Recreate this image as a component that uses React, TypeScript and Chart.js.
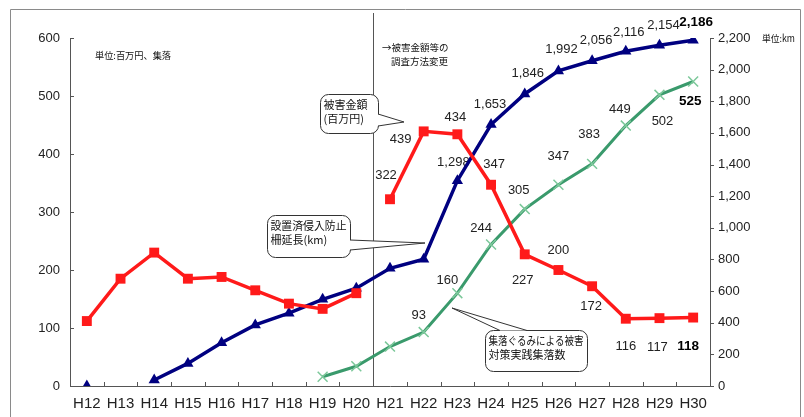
import React, { useEffect, useRef } from "react";
import { Chart, registerables } from "chart.js";

Chart.register(...registerables);

const categories = ["H12","H13","H14","H15","H16","H17","H18","H19","H20","H21","H22","H23","H24","H25","H26","H27","H28","H29","H30"];
// 被害金額（百万円） — old method H12–H20, new method H21–H30
const damage = [112, 185, 230, 185, 188, 165, 142, 133, 160, 322, 439, 434, 347, 227, 200, 172, 116, 117, 118];
// 設置済侵入防止柵延長 (km)
const fence = [0, null, 38, 143, 274, 386, 460, 548, 618, 744, 801, 1298, 1653, 1846, 1992, 2056, 2116, 2154, 2186];
// 集落ぐるみによる被害対策実践集落数
const villages = [null, null, null, null, null, null, null, 16, 34, 68, 93, 160, 244, 305, 347, 383, 449, 502, 525];

const leftTicks = { min: 0, max: 600, step: 100 };
const rightTicks = { min: 0, max: 2200, step: 200 };

// which points get a value label, and where (pixel offsets from the point)
const damageLabelIdx = [9, 10, 11, 12, 13, 14, 15, 16, 17, 18];
const damageLabelOff = [[-4, -24], [-23, 8], [-2, -17], [3, -20], [-2, 26], [0, -20], [-1, 20], [0, 28], [-2, 29], [-5, 29]];
const fenceLabelIdx = [11, 12, 13, 14, 15, 16, 17, 18];
const fenceLabelOff = [[-4, -18], [-1, -20], [3, -21], [3, -21], [4, -20], [3, -19], [4, -20], [3, -18]];
const villageLabelIdx = [10, 11, 12, 13, 14, 15, 16, 17, 18];
const villageLabelOff = [[-5, -17], [-10, -13], [-10, -16], [-6, -19], [0, -28], [-3, -29], [-6, -16], [3, 27], [-3, 20]];

const RED = "#ff1a1a";
const NAVY = "#000080";
const GREEN = "#3a9a6c";
const GREEN_MARK = "#7cc89a";
const NUM_FONT = "'Liberation Sans', Arial, sans-serif";
const JP_FONT = "'Noto Sans CJK JP', sans-serif";

function fmt(v: number) {
  return v.toLocaleString("en-US");
}

function callout(ctx: CanvasRenderingContext2D, x: number, y: number, w: number, h: number,
  b1: [number, number], b2: [number, number], tip: [number, number], lines: string[]) {
  ctx.save();
  ctx.lineWidth = 1;
  ctx.strokeStyle = "#333";
  ctx.fillStyle = "#fff";
  ctx.beginPath();
  ctx.roundRect(x, y, w, h, 8);
  ctx.fill();
  ctx.stroke();
  ctx.beginPath();
  ctx.moveTo(b1[0], b1[1]);
  ctx.lineTo(tip[0], tip[1]);
  ctx.lineTo(b2[0], b2[1]);
  ctx.closePath();
  ctx.fill();
  ctx.beginPath();
  ctx.moveTo(b1[0], b1[1]);
  ctx.lineTo(tip[0], tip[1]);
  ctx.lineTo(b2[0], b2[1]);
  ctx.stroke();
  ctx.fillStyle = "#111";
  ctx.font = `11px ${JP_FONT}`;
  ctx.textAlign = "left";
  ctx.textBaseline = "middle";
  lines.forEach((t, i) => ctx.fillText(t, x + 3, y + 10 + i * 14.5, w - 7));
  ctx.restore();
}

const decorPlugin = {
  id: "decor",
  beforeDatasetsDraw(chart: any) {
    const ctx: CanvasRenderingContext2D = chart.ctx;
    const area = chart.chartArea;
    const xs = chart.scales.x;
    const yl = chart.scales.y;
    const yr = chart.scales.y1;
    ctx.save();
    // outer frame
    ctx.strokeStyle = "#8a8a8a";
    ctx.lineWidth = 1;
    ctx.beginPath();
    ctx.moveTo(10.5, 420);
    ctx.lineTo(10.5, 9.5);
    ctx.lineTo(800.5, 9.5);
    ctx.lineTo(800.5, 420);
    ctx.stroke();
    // method-change vertical line
    const vx = Math.round((xs.getPixelForValue(8) + xs.getPixelForValue(9)) / 2) + 0.5;
    ctx.strokeStyle = "#555";
    ctx.beginPath();
    ctx.moveTo(vx, 13);
    ctx.lineTo(vx, area.bottom);
    ctx.stroke();
    // inward ticks
    ctx.strokeStyle = "#555";
    ctx.beginPath();
    for (let v = leftTicks.min; v <= leftTicks.max; v += leftTicks.step) {
      const py = Math.round(yl.getPixelForValue(v)) + 0.5;
      ctx.moveTo(area.left, py);
      ctx.lineTo(area.left + 4, py);
    }
    for (let v = rightTicks.min; v <= rightTicks.max; v += rightTicks.step) {
      const py = Math.round(yr.getPixelForValue(v)) + 0.5;
      ctx.moveTo(area.right, py);
      ctx.lineTo(area.right + 4, py);
    }
    for (let i = 0; i <= categories.length; i++) {
      const px = Math.round(area.left + (i * (area.right - area.left)) / categories.length) + 0.5;
      ctx.moveTo(px, area.bottom);
      ctx.lineTo(px, area.bottom - 4);
    }
    ctx.stroke();

    // value labels
    const drawLabels = (dsIndex: number, idx: number[], off: number[][], vals: (number | null)[]) => {
      const meta = chart.getDatasetMeta(dsIndex);
      idx.forEach((i, k) => {
        const el = meta.data[i];
        const v = vals[i];
        if (!el || v == null) return;
        const last = i === categories.length - 1;
        ctx.font = last ? `bold 13.5px ${NUM_FONT}` : `13px ${NUM_FONT}`;
        ctx.fillStyle = last ? "#000" : "#222";
        ctx.textAlign = "center";
        ctx.textBaseline = "middle";
        ctx.fillText(fmt(v), el.x + off[k][0], el.y + off[k][1]);
      });
    };
    drawLabels(0, damageLabelIdx, damageLabelOff, damage);
    drawLabels(1, fenceLabelIdx, fenceLabelOff, fence);
    drawLabels(2, villageLabelIdx, villageLabelOff, villages);

    // unit texts
    ctx.fillStyle = "#111";
    ctx.textAlign = "left";
    ctx.textBaseline = "middle";
    ctx.font = `9.5px ${JP_FONT}`;
    ctx.fillText("単位:百万円、集落", 95, 55, 76);
    ctx.fillText("→被害金額等の", 382, 47);
    ctx.fillText("調査方法変更", 391, 61);
    ctx.fillText("単位:km", 762, 38, 33);
    ctx.restore();
  },
  afterDatasetsDraw(chart: any) {
    const ctx: CanvasRenderingContext2D = chart.ctx;
    callout(ctx, 320.5, 94.5, 58, 39, [378, 114], [378, 126], [404, 122], ["被害金額", "(百万円)"]);
    callout(ctx, 267.5, 215.5, 83, 42, [350, 240], [350, 250], [425, 243], ["設置済侵入防止", "柵延長(km)"]);
    callout(ctx, 485.5, 330.5, 102, 41, [500, 330.5], [527, 330.5], [452, 308], ["集落ぐるみによる被害", "対策実践集落数"]);
  },
};

export default function App() {
  const ref = useRef<HTMLCanvasElement | null>(null);
  useEffect(() => {
    if (!ref.current) return;
    const chart = new Chart(ref.current, {
      type: "line",
      data: {
        labels: categories,
        datasets: [
          {
            label: "被害金額(百万円)",
            data: damage,
            yAxisID: "y",
            borderColor: RED,
            backgroundColor: RED,
            borderWidth: 3.5,
            pointStyle: "rect",
            pointRadius: 7,
            pointBorderWidth: 0,
            tension: 0,
            segment: {
              borderColor: (c: any) => (c.p0DataIndex === 8 ? "rgba(0,0,0,0)" : RED),
            },
          },
          {
            label: "設置済侵入防止柵延長(km)",
            data: fence,
            yAxisID: "y1",
            borderColor: NAVY,
            backgroundColor: NAVY,
            borderWidth: 3.5,
            pointStyle: "triangle",
            pointRadius: 6.5,
            pointBorderWidth: 0,
            spanGaps: false,
            tension: 0,
          },
          {
            label: "集落ぐるみによる被害対策実践集落数",
            data: villages,
            yAxisID: "y",
            borderColor: GREEN,
            backgroundColor: GREEN_MARK,
            pointBorderColor: GREEN_MARK,
            borderWidth: 3,
            pointStyle: "crossRot",
            pointRadius: 7,
            pointBorderWidth: 1.5,
            tension: 0,
          },
        ],
      },
      options: {
        animation: false,
        responsive: true,
        maintainAspectRatio: false,
        layout: { padding: { top: 38, left: 0, right: 0, bottom: 0 } },
        plugins: { legend: { display: false }, tooltip: { enabled: false } },
        scales: {
          x: {
            offset: true,
            grid: { display: false, drawTicks: false },
            border: { display: true, color: "#555" },
            ticks: { color: "#222", font: { size: 15, family: NUM_FONT }, padding: 9, maxRotation: 0, autoSkip: false },
            afterFit: (s: any) => { s.height = 31; },
          },
          y: {
            position: "left",
            min: leftTicks.min,
            max: leftTicks.max,
            grid: { display: false, drawTicks: false },
            border: { display: true, color: "#555" },
            ticks: { stepSize: leftTicks.step, color: "#222", font: { size: 13, family: NUM_FONT }, padding: 10 },
            afterFit: (s: any) => { s.width = 70; },
          },
          y1: {
            position: "right",
            min: rightTicks.min,
            max: rightTicks.max,
            grid: { display: false, drawTicks: false },
            border: { display: true, color: "#555" },
            ticks: {
              stepSize: rightTicks.step,
              color: "#222",
              font: { size: 13, family: NUM_FONT },
              padding: 8,
              callback: (v: any) => fmt(Number(v)),
            },
            afterFit: (s: any) => { s.width = 94; },
          },
        },
      },
      plugins: [decorPlugin],
    });
    return () => chart.destroy();
  }, []);
  return (
    <div style={{ position: "fixed", left: 0, top: 0, width: 804, height: 417, background: "#fff" }}>
      <canvas ref={ref} />
    </div>
  );
}
